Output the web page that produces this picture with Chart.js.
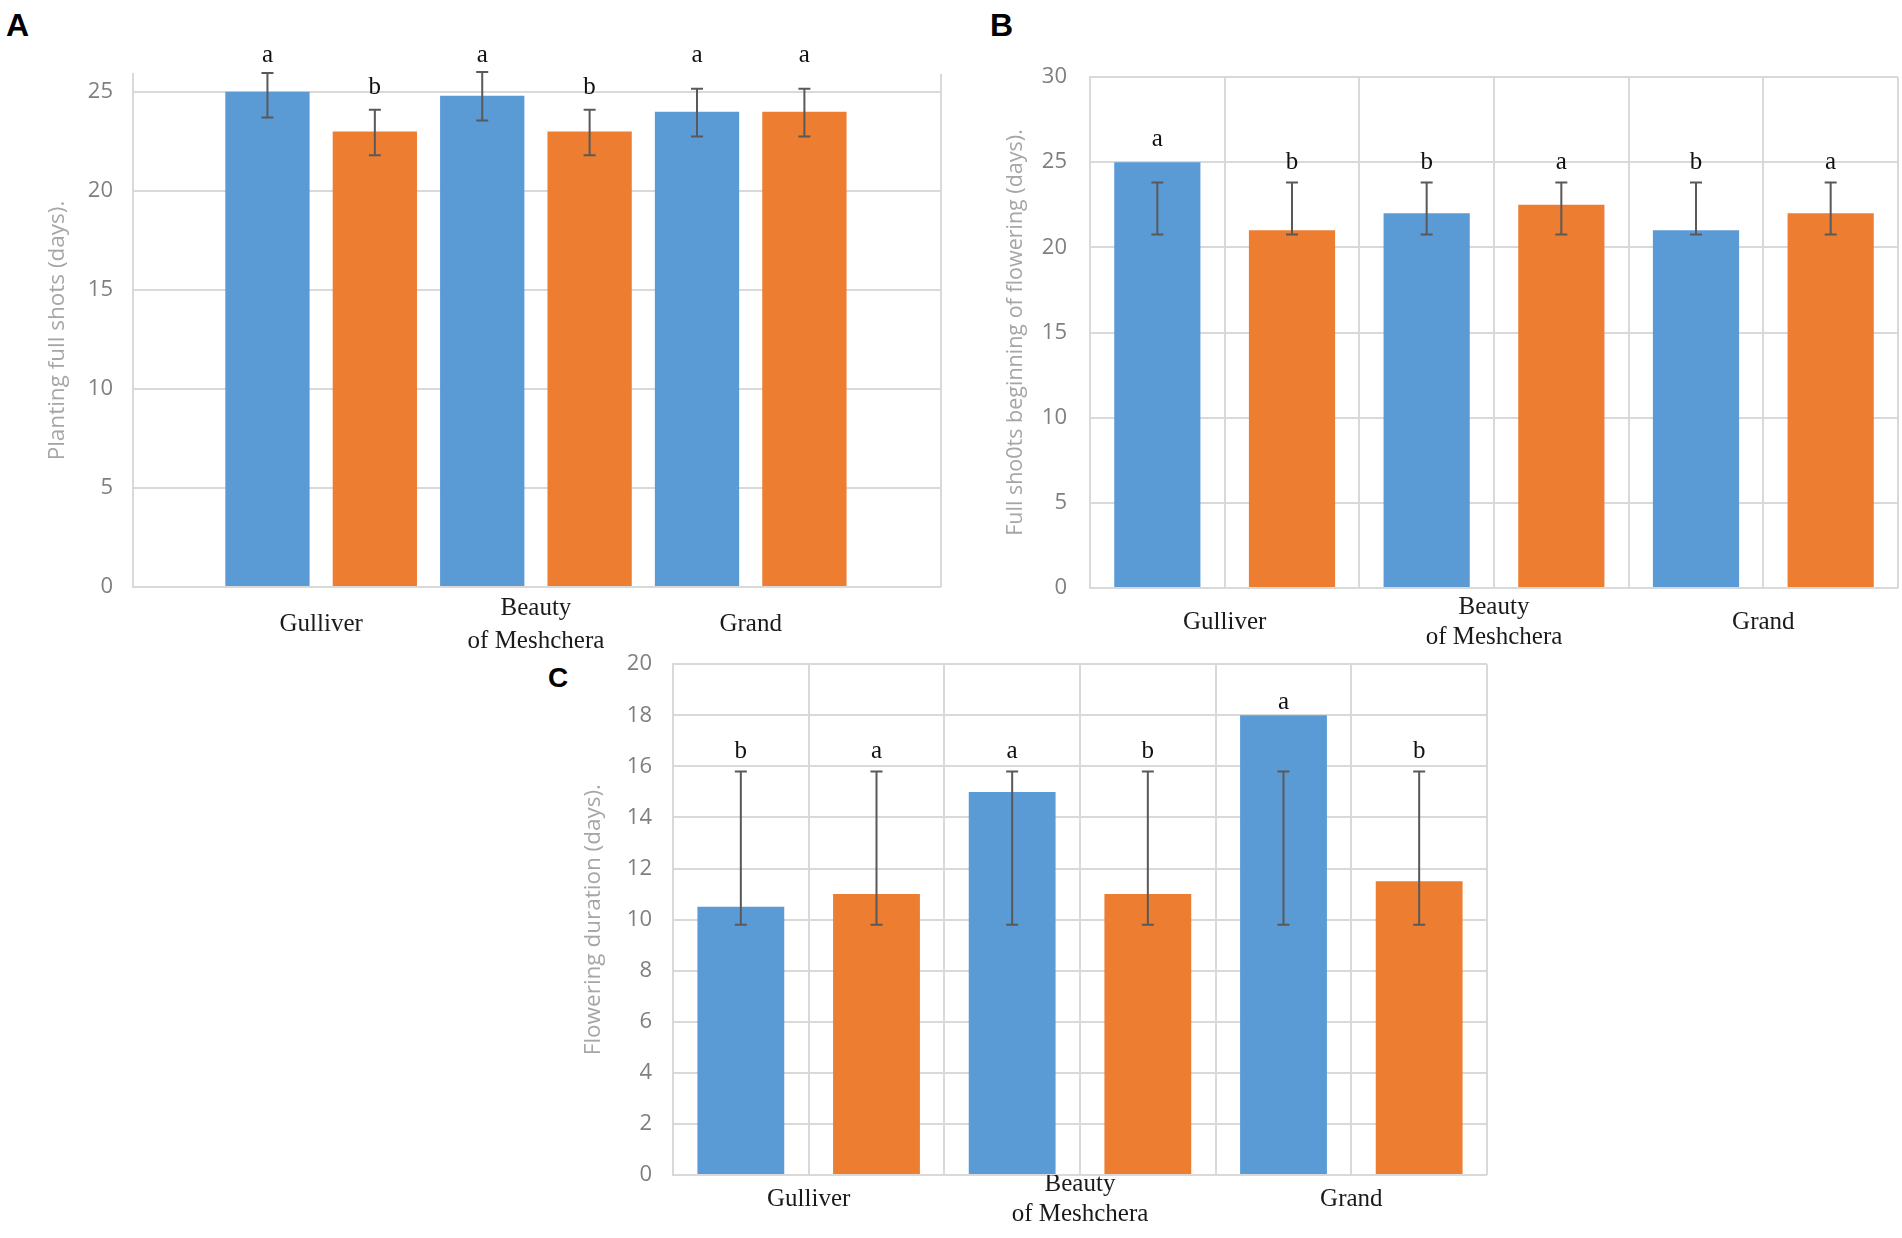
<!DOCTYPE html>
<html>
<head>
<meta charset="utf-8">
<script src="https://cdn.jsdelivr.net/npm/chart.js@4.4.1/dist/chart.umd.min.js"></script>
<style>
  body { margin: 0; background: #fff; width: 1902px; height: 1238px; position: relative; overflow: hidden; }
  canvas { position: absolute; }
  .tag { position: absolute; font-family: "Liberation Sans", Arial, sans-serif; font-weight: bold; color: #000; line-height: 1; }
</style>
</head>
<body>
<div class="tag" style="left:6px;top:9px;font-size:32px">A</div>
<div class="tag" style="left:990px;top:9px;font-size:32px">B</div>
<div class="tag" style="left:548px;top:664px;font-size:28px">C</div>

<canvas id="chartA" width="960" height="680" style="left:0;top:0"></canvas>
<canvas id="chartB" width="942" height="680" style="left:960px;top:0"></canvas>
<canvas id="chartC" width="1000" height="608" style="left:500px;top:630px"></canvas>

<script>
// shared
const categories = [['Gulliver'], ['Beauty', 'of Meshchera'], ['Grand']];
const blueColor = '#5B9BD5';
const orangeColor = '#ED7D31';

// panel A - planting to full shoots
const aTitle = 'Planting full shots (days).';
const aTicks = [0, 5, 10, 15, 20, 25];
const aBlue = [25, 24.8, 24];
const aOrange = [23, 23, 24];
const aBlueLow = [23.7, 23.55, 22.75];
const aBlueHigh = [25.95, 26.0, 25.15];
const aOrangeLow = [21.8, 21.8, 22.75];
const aOrangeHigh = [24.1, 24.1, 25.15];
const aBlueLetters = ['a', 'a', 'a'];
const aOrangeLetters = ['b', 'b', 'a'];
const aBlueLetterAt = [26.85, 26.85, 26.85];
const aOrangeLetterAt = [25.2, 25.2, 26.85];

// panel B - full shoots to flowering
const bTitle = 'Full sho0ts beginning of flowering (days).';
const bTicks = [0, 5, 10, 15, 20, 25, 30];
const bBlue = [25, 22, 21];
const bOrange = [21, 22.5, 22];
const bBlueLow = [20.75, 20.75, 20.75];
const bBlueHigh = [23.8, 23.8, 23.8];
const bOrangeLow = [20.75, 20.75, 20.75];
const bOrangeHigh = [23.8, 23.8, 23.8];
const bBlueLetters = ['a', 'b', 'b'];
const bOrangeLetters = ['b', 'a', 'a'];
const bBlueLetterAt = [26.35, 25.0, 25.0];
const bOrangeLetterAt = [25.0, 25.0, 25.0];

// panel C - flowering duration
const cTitle = 'Flowering duration (days).';
const cTicks = [0, 2, 4, 6, 8, 10, 12, 14, 16, 18, 20];
const cBlue = [10.5, 15, 18];
const cOrange = [11, 11, 11.5];
const cBlueLow = [9.8, 9.8, 9.8];
const cBlueHigh = [15.8, 15.8, 15.8];
const cOrangeLow = [9.8, 9.8, 9.8];
const cOrangeHigh = [15.8, 15.8, 15.8];
const cBlueLetters = ['b', 'a', 'a'];
const cOrangeLetters = ['a', 'b', 'b'];
const cBlueLetterAt = [16.6, 16.6, 18.5];
const cOrangeLetterAt = [16.6, 16.6, 16.6];

const gridColor = '#d9d9d9';

// error bars + significance letters, placed through the y scale
const errorBars = {
  id: 'errorBars',
  afterDatasetsDraw(chart) {
    const ctx = chart.ctx;
    const y = chart.scales.y;
    ctx.save();
    chart.data.datasets.forEach((ds, i) => {
      chart.getDatasetMeta(i).data.forEach((bar, j) => {
        const x = bar.x;
        const top = y.getPixelForValue(ds.errHigh[j]);
        const bottom = y.getPixelForValue(ds.errLow[j]);
        ctx.strokeStyle = '#595959';
        ctx.lineWidth = 2;
        ctx.beginPath();
        ctx.moveTo(x, top); ctx.lineTo(x, bottom);
        ctx.moveTo(x - 6, top); ctx.lineTo(x + 6, top);
        ctx.moveTo(x - 6, bottom); ctx.lineTo(x + 6, bottom);
        ctx.stroke();

        ctx.fillStyle = '#111';
        ctx.font = '25px "Liberation Serif", "Times New Roman", serif';
        ctx.textAlign = 'center';
        ctx.textBaseline = 'middle';
        ctx.fillText(ds.letters[j], x, y.getPixelForValue(ds.letterAt[j]));
      });
    });
    ctx.restore();
  }
};

function series(values, color, low, high, letters, letterAt, barPct) {
  return {
    data: values.map((v, i) => ({ x: i, y: v })),
    backgroundColor: color,
    barPercentage: barPct,
    categoryPercentage: 1,
    errLow: low,
    errHigh: high,
    letters: letters,
    letterAt: letterAt
  };
}

function panel(id, p) {
  new Chart(document.getElementById(id), {
    type: 'bar',
    data: {
      datasets: [
        series(p.blue, blueColor, p.blueLow, p.blueHigh, p.blueLetters, p.blueLetterAt, p.barPct),
        series(p.orange, orangeColor, p.orangeLow, p.orangeHigh, p.orangeLetters, p.orangeLetterAt, p.barPct)
      ]
    },
    options: {
      responsive: false,
      animation: false,
      devicePixelRatio: 1,
      layout: { padding: { left: p.padL, top: p.padT, right: p.padR, bottom: 0 } },
      plugins: { legend: { display: false }, tooltip: { enabled: false } },
      scales: {
        x: {
          type: 'linear', min: p.xMin, max: p.xMax, offset: false,
          grid: { display: false, offset: false }, border: { display: false },
          afterBuildTicks: s => { s.ticks = categories.map((c, i) => ({ value: i })); },
          afterFit: s => { s.height = p.xH; },
          ticks: {
            autoSkip: false, maxRotation: 0, minRotation: 0, crossAlign: 'center',
            padding: p.xPad, color: '#1a1a1a',
            font: { family: '"Liberation Serif", "Times New Roman", serif', size: 25, lineHeight: p.lineH },
            callback: (v, i) => categories[i]
          }
        },
        x2: {
          type: 'linear', position: 'bottom', min: p.xMin, max: p.xMax, offset: false,
          afterBuildTicks: s => { s.ticks = p.xGrid.map(v => ({ value: v })); },
          afterFit: s => { s.height = 0; },
          ticks: { display: false },
          grid: { color: gridColor, lineWidth: 2, drawTicks: false, offset: false },
          border: { display: false }
        },
        y: {
          min: 0, max: p.yMax,
          afterBuildTicks: s => { s.ticks = p.yTicks.map(v => ({ value: v })); },
          afterFit: s => { s.width = p.yW; },
          ticks: { padding: p.yPad, color: '#7f7f7f', font: { family: '"Open Sans", sans-serif', size: 22 } },
          grid: { color: gridColor, lineWidth: 2, drawTicks: false },
          border: { display: true, color: gridColor, width: 2 },
          title: {
            display: true, text: p.title, color: '#a6a6a6',
            font: { family: '"Open Sans", sans-serif', size: p.titleSize },
            padding: { top: p.titlePad, bottom: 0 }
          }
        }
      }
    },
    plugins: [errorBars]
  });
}

function halfSteps(min, max) {
  const out = [];
  for (let v = min; v <= max + 1e-9; v += 0.5) out.push(v);
  return out;
}

// A: plot spans x 133..941, y 74..587
panel('chartA', {
  blue: aBlue, orange: aOrange,
  blueLow: aBlueLow, blueHigh: aBlueHigh, orangeLow: aOrangeLow, orangeHigh: aOrangeHigh,
  blueLetters: aBlueLetters, orangeLetters: aOrangeLetters,
  blueLetterAt: aBlueLetterAt, orangeLetterAt: aOrangeLetterAt,
  title: aTitle, yTicks: aTicks, yMax: 25.9,
  xMin: -0.876, xMax: 2.886, xGrid: [-0.876, 2.886],
  barPct: 0.785,
  padL: 44, padT: 74, padR: 19, yW: 89, xH: 93, xPad: 13, lineH: 1.32, yPad: 20, titlePad: 0, titleSize: 22.5
});

// B: plot spans x 1090..1898, y 77..588
panel('chartB', {
  blue: bBlue, orange: bOrange,
  blueLow: bBlueLow, blueHigh: bBlueHigh, orangeLow: bOrangeLow, orangeHigh: bOrangeHigh,
  blueLetters: bBlueLetters, orangeLetters: bOrangeLetters,
  blueLetterAt: bBlueLetterAt, orangeLetterAt: bOrangeLetterAt,
  title: bTitle, yTicks: bTicks, yMax: 30,
  xMin: -0.5, xMax: 2.5, xGrid: halfSteps(-0.5, 2.5),
  barPct: 0.64,
  padL: 42, padT: 77, padR: 4, yW: 88, xH: 92, xPad: 11, lineH: 1.2, yPad: 23, titlePad: 0.5, titleSize: 21.5
});

// C: plot spans x 673..1487, y 661..1175
panel('chartC', {
  blue: cBlue, orange: cOrange,
  blueLow: cBlueLow, blueHigh: cBlueHigh, orangeLow: cOrangeLow, orangeHigh: cOrangeHigh,
  blueLetters: cBlueLetters, orangeLetters: cOrangeLetters,
  blueLetterAt: cBlueLetterAt, orangeLetterAt: cOrangeLetterAt,
  title: cTitle, yTicks: cTicks, yMax: 20,
  xMin: -0.5, xMax: 2.5, xGrid: halfSteps(-0.5, 2.5),
  barPct: 0.64,
  padL: 80, padT: 31, padR: 13, yW: 93, xH: 63, xPad: 1, lineH: 1.2, yPad: 21, titlePad: 0.5, titleSize: 22.5
});
</script>
</body>
</html>
